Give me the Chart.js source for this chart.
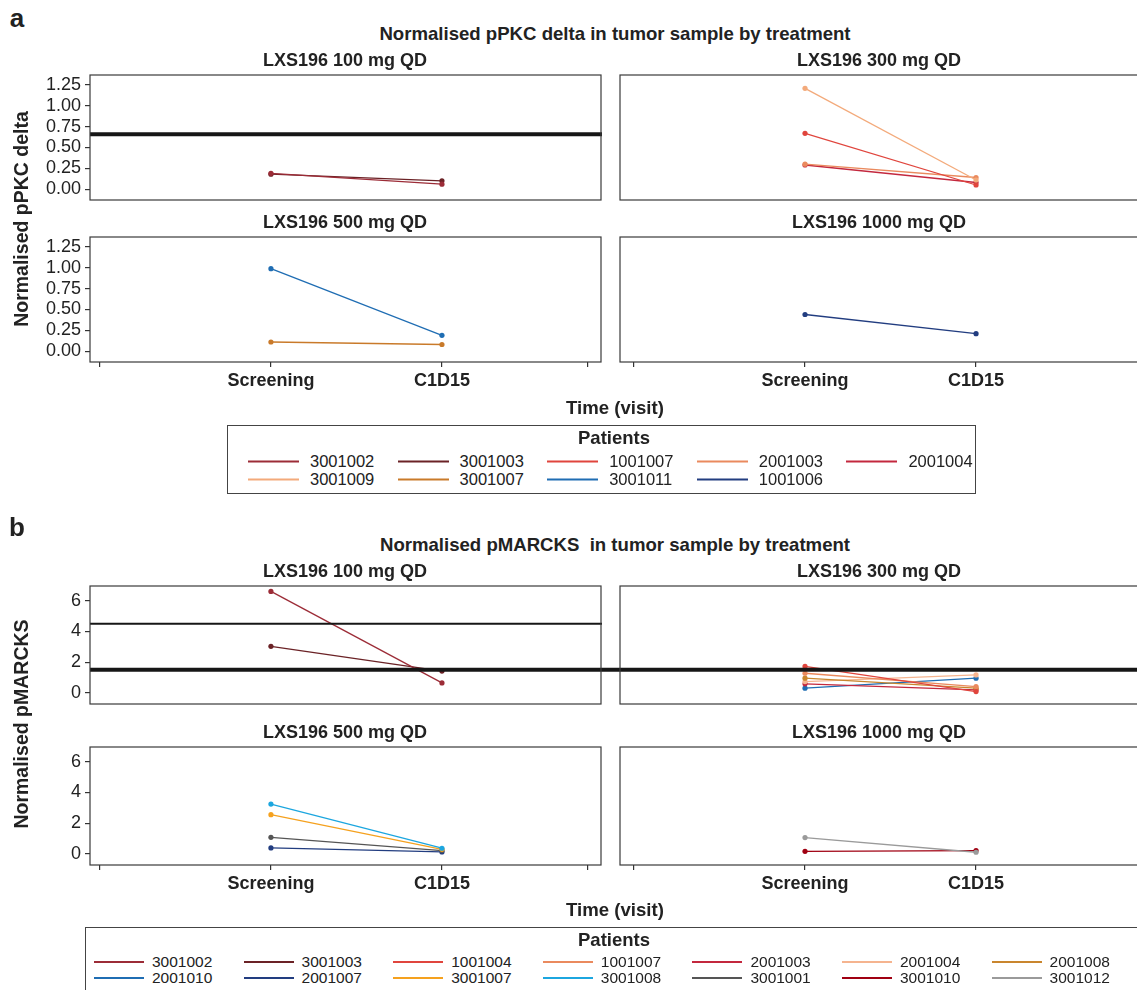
<!DOCTYPE html>
<html>
<head>
<meta charset="utf-8">
<script src="https://cdn.jsdelivr.net/npm/chart.js@4.4.1/dist/chart.umd.min.js"></script>
<style>
  body { margin:0; width:1137px; height:990px; overflow:hidden; background:#fff; position:relative;
         font-family:'Liberation Sans', Arial, sans-serif; color:#222; }
  canvas { position:absolute; }
  .t { position:absolute; transform:translate(-50%,-50%); font-weight:bold; white-space:pre; font-size:18px; }
  .letter { position:absolute; font-weight:bold; font-size:26px; transform:translate(-50%,-50%); }
  .ytitle { position:absolute; font-weight:bold; font-size:19.5px; white-space:nowrap; transform:translate(-50%,-50%) rotate(-90deg); }
  .legend { position:absolute; border:1px solid #444; box-sizing:border-box; }
  .item { position:absolute; white-space:nowrap; transform:translateY(-50%); display:flex; align-items:center; }
  .item i { display:inline-block; height:2px; }
</style>
</head>
<body>
<script>
const visits = ['Screening', 'C1D15'];

// ---- panel a: normalised pPKC delta ----
const pkcPatients = ['3001002', '3001003', '1001007', '2001003', '2001004', '3001009', '3001007', '3001011', '1001006'];
const pkcColors = ['#9c2c37', '#6b2226', '#e0453d', '#ea8a5e', '#c3283e', '#f3aa7b', '#c97a2a', '#1f6db3', '#223d80'];
const pkcTicks = [0, 0.25, 0.5, 0.75, 1, 1.25];
const pkcRef = [0.66];

const pkc100Ids = ['3001002', '3001003'];
const pkc100Vals = [[0.19, 0.06], [0.18, 0.10]];
const pkc300Ids = ['3001009', '1001007', '2001003', '2001004'];
const pkc300Vals = [[1.21, 0.11], [0.67, 0.05], [0.30, 0.14], [0.29, 0.08]];
const pkc500Ids = ['3001011', '3001007'];
const pkc500Vals = [[0.99, 0.19], [0.11, 0.08]];
const pkc1000Ids = ['1001006'];
const pkc1000Vals = [[0.44, 0.21]];

// ---- panel b: normalised pMARCKS ----
const marPatients = ['3001002', '3001003', '1001004', '1001007', '2001003', '2001004', '2001008',
                     '2001010', '2001007', '3001007', '3001008', '3001001', '3001010', '3001012'];
const marColors = ['#9c2c37', '#6b2226', '#e0453d', '#ea8a5e', '#c3283e', '#f5b48f', '#c9862e',
                   '#1f6db3', '#223d80', '#f5a11e', '#1ca6df', '#555555', '#a00012', '#9a9a9a'];
const marTicks = [0, 2, 4, 6];
const marRef = [4.5, 1.51];

const mar100Ids = ['3001002', '3001003'];
const mar100Vals = [[6.6, 0.65], [3.03, 1.42]];
const mar300Ids = ['1001004', '1001007', '2001008', '2001004', '2001003', '2001010'];
const mar300Vals = [[1.72, 0.09], [1.28, 0.41], [0.96, 0.31], [0.74, 1.17], [0.59, 0.2], [0.31, 0.96]];
const mar500Ids = ['3001008', '3001007', '3001001', '2001007'];
const mar500Vals = [[3.24, 0.37], [2.55, 0.3], [1.08, 0.22], [0.39, 0.13]];
const mar1000Ids = ['3001012', '3001010'];
const mar1000Vals = [[1.06, 0.11], [0.17, 0.22]];

Chart.defaults.font.family = "'Liberation Sans', Arial, sans-serif";
Chart.defaults.color = '#222';

// frame around plot area + horizontal reference lines
const boxPlugin = {
  id: 'box',
  afterDatasetsDraw(chart, args, opts) {
    const { ctx, chartArea: a } = chart;
    const y = chart.scales.y;
    ctx.save();
    (opts.lines || []).forEach(l => {
      const py = y.getPixelForValue(l.value);
      ctx.strokeStyle = '#161616';
      ctx.lineWidth = l.width;
      ctx.beginPath();
      ctx.moveTo(l.fromEdge ? 0 : a.left, py);
      ctx.lineTo(l.toEdge ? chart.width : a.right + 1, py);
      ctx.stroke();
    });
    ctx.strokeStyle = '#3a3a3a';
    ctx.lineWidth = 1.2;
    ctx.strokeRect(a.left, a.top, a.right - a.left, a.bottom - a.top);
    ctx.restore();
  }
};

function addText(cls, txt, x, y, size) {
  const d = document.createElement('div');
  d.className = cls;
  d.textContent = txt;
  d.style.left = x + 'px';
  d.style.top = y + 'px';
  if (size) d.style.fontSize = size + 'px';
  document.body.appendChild(d);
}

function makePanel(p) {
  const cv = document.createElement('canvas');
  cv.width = p.w; cv.height = p.h;
  cv.style.left = p.x + 'px'; cv.style.top = p.y + 'px';
  document.body.appendChild(cv);

  const datasets = p.ids.map((id, i) => {
    const c = p.colors[p.patients.indexOf(id)];
    return {
      label: id,
      data: p.vals[i].map((v, j) => ({ x: j + 1, y: v })),
      borderColor: c, backgroundColor: c,
      borderWidth: 1.3, pointRadius: 2.6, pointBorderWidth: 0, tension: 0
    };
  });

  const tickGrid = { display: true, drawOnChartArea: false, drawTicks: true, tickLength: 5, color: '#333', lineWidth: 1.2 };

  new Chart(cv, {
    type: 'line',
    data: { datasets },
    options: {
      responsive: false, animation: false, events: [],
      layout: { padding: p.pad },
      plugins: { legend: { display: false }, tooltip: { enabled: false }, box: { lines: p.lines } },
      scales: {
        x: {
          type: 'linear', min: p.xmin, max: p.xmax, display: p.showX,
          afterFit: s => {
            if (p.showX) s.height = 40;
            s.paddingLeft = 0; s.paddingRight = 0;
          },
          afterBuildTicks: s => { s.ticks = p.xTicks.map(v => ({ value: v })); },
          grid: tickGrid, border: { display: false },
          ticks: {
            padding: 3, maxRotation: 0, autoSkip: false,
            font: { size: 18, weight: 'bold' },
            callback: v => (v === 1 || v === 2) ? visits[v - 1] : ''
          }
        },
        y: {
          min: p.ymin, max: p.ymax, display: p.showY,
          afterFit: s => {
            if (p.showY) s.width = 90;
            s.paddingTop = 0; s.paddingBottom = 0;
          },
          afterBuildTicks: s => { s.ticks = p.yTicks.map(v => ({ value: v })); },
          grid: tickGrid, border: { display: false },
          ticks: { padding: 4, autoSkip: false, font: { size: 18 }, callback: p.yFmt }
        }
      }
    },
    plugins: [boxPlugin]
  });
}

const leftCol = { x: 0, w: 612, xmin: -0.058, xmax: 2.93, xTicks: [0, 1, 2, 2.85], showY: true };
const rightCol = { x: 612, w: 540, xmin: -0.082, xmax: 2.988, xTicks: [0, 1, 2], showY: false };

function panelSet(cfg) {
  const common = { patients: cfg.patients, colors: cfg.colors, ymin: cfg.ymin, ymax: cfg.ymax, yTicks: cfg.yTicks, yFmt: cfg.yFmt };
  cfg.panels.forEach((pn, k) => {
    const col = k % 2 === 0 ? leftCol : rightCol;
    const bottomRow = k >= 2;
    const top = bottomRow ? cfg.row2 : cfg.row1;
    const h = 10 + cfg.boxH + (bottomRow ? 40 : 10);
    makePanel(Object.assign({}, common, col, {
      y: top - 10, h,
      ids: pn.ids, vals: pn.vals, lines: pn.lines,
      showX: bottomRow,
      pad: k % 2 === 0 ? { top: 10, bottom: bottomRow ? 0 : 10, right: 11, left: 0 }
                       : { top: 10, bottom: bottomRow ? 0 : 10, right: 7, left: 8 }
    }));
  });
}

// panel a
panelSet({
  patients: pkcPatients, colors: pkcColors, ymin: -0.13, ymax: 1.37, yTicks: pkcTicks,
  yFmt: v => v.toFixed(2), row1: 75, row2: 237, boxH: 125,
  panels: [
    { ids: pkc100Ids, vals: pkc100Vals, lines: [{ value: pkcRef[0], width: 4 }] },
    { ids: pkc300Ids, vals: pkc300Vals, lines: [] },
    { ids: pkc500Ids, vals: pkc500Vals, lines: [] },
    { ids: pkc1000Ids, vals: pkc1000Vals, lines: [] }
  ]
});

// panel b
panelSet({
  patients: marPatients, colors: marColors, ymin: -0.72, ymax: 6.95, yTicks: marTicks,
  yFmt: v => String(v), row1: 586, row2: 747, boxH: 118,
  panels: [
    { ids: mar100Ids, vals: mar100Vals, lines: [{ value: marRef[0], width: 2 }, { value: marRef[1], width: 4, toEdge: true }] },
    { ids: mar300Ids, vals: mar300Vals, lines: [{ value: marRef[1], width: 4, fromEdge: true }] },
    { ids: mar500Ids, vals: mar500Vals, lines: [] },
    { ids: mar1000Ids, vals: mar1000Vals, lines: [] }
  ]
});

// titles and labels
addText('letter', 'a', 17, 18);
addText('t', 'Normalised pPKC delta in tumor sample by treatment', 615, 34, 18.6);
addText('t', 'LXS196 100 mg QD', 345, 60);
addText('t', 'LXS196 300 mg QD', 879, 60);
addText('t', 'LXS196 500 mg QD', 345, 222);
addText('t', 'LXS196 1000 mg QD', 879, 222);
addText('t', 'Time (visit)', 615, 408, 18.6);
addText('ytitle', 'Normalised pPKC delta', 21, 219);

addText('letter', 'b', 17, 527);
addText('t', 'Normalised pMARCKS  in tumor sample by treatment', 615, 545, 18.6);
addText('t', 'LXS196 100 mg QD', 345, 571);
addText('t', 'LXS196 300 mg QD', 879, 571);
addText('t', 'LXS196 500 mg QD', 345, 732);
addText('t', 'LXS196 1000 mg QD', 879, 732);
addText('t', 'Time (visit)', 615, 910, 18.6);
addText('ytitle', 'Normalised pMARCKS', 21, 724);

function makeLegend(l) {
  const box = document.createElement('div');
  box.className = 'legend';
  Object.assign(box.style, { left: l.x + 'px', top: l.y + 'px', width: l.w + 'px', height: l.h + 'px' });
  document.body.appendChild(box);
  addText('t', 'Patients', l.titleX, l.titleY, 18.5);
  l.patients.forEach((id, i) => {
    const row = Math.floor(i / l.cols), col = i % l.cols;
    const it = document.createElement('div');
    it.className = 'item';
    it.style.left = (l.x + l.col0 + col * l.colW) + 'px';
    it.style.top = (l.y + l.rowY[row]) + 'px';
    it.style.fontSize = l.font + 'px';
    const ln = document.createElement('i');
    ln.style.width = l.lineW + 'px';
    ln.style.background = l.colors[i];
    ln.style.marginRight = l.gap + 'px';
    it.appendChild(ln);
    it.appendChild(document.createTextNode(id));
    document.body.appendChild(it);
  });
}

makeLegend({ patients: pkcPatients, colors: pkcColors, x: 227, y: 425, w: 749, h: 69, cols: 5,
             col0: 21, colW: 149.6, rowY: [36, 54], lineW: 51, gap: 11, font: 16.5, titleX: 614, titleY: 438 });
makeLegend({ patients: marPatients, colors: marColors, x: 85, y: 927, w: 1080, h: 80, cols: 7,
             col0: 9, colW: 149.6, rowY: [35, 51], lineW: 50, gap: 8, font: 15.5, titleX: 614, titleY: 940 });
</script>
</body>
</html>
